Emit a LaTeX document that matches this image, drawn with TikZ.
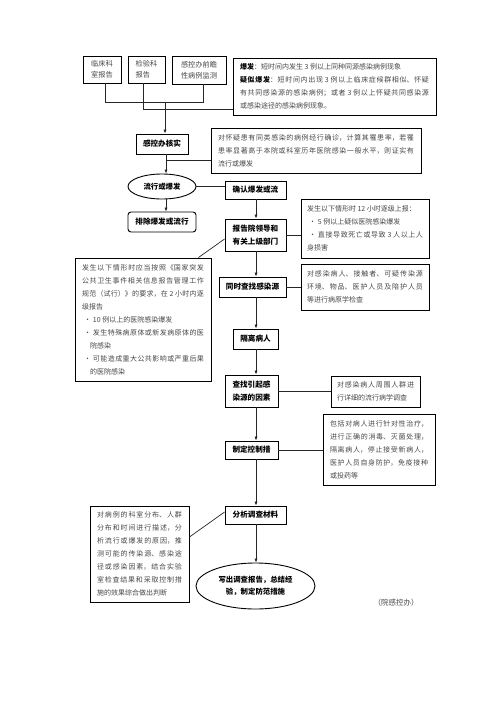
\documentclass[tikz,border=0pt]{standalone}
\usepackage{fontspec}
\setmainfont{Noto Sans CJK SC}
\usetikzlibrary{shapes.geometric,arrows.meta}
\XeTeXlinebreaklocale "zh"
\XeTeXlinebreakskip=0pt plus 2pt
\tikzset{
  box/.style={draw=black, line width=0.9pt, inner sep=0pt, align=center},
  lbl/.style={box, font=\fontsize{7.6}{12.5}\selectfont\bfseries},
  src/.style={box, align=left, font=\fontsize{7.2}{10.5}\selectfont, text=black!72},
  note/.style={draw=black, line width=0.9pt, inner sep=0pt, align=justify,
    font=\fontsize{7}{13}\selectfont, text=black!72},
  oval/.style={ellipse, draw=black, line width=0.9pt, inner sep=0pt, align=center,
    font=\fontsize{7.4}{12.5}\selectfont\bfseries},
  conn/.style={line width=0.7pt, draw=black!85},
  arr/.style={conn, -{Latex[length=4pt,width=3.2pt]}},
}
\begin{document}
\begin{tikzpicture}[x=1pt,y=-1pt]
\useasboundingbox (0,0) rectangle (496,702);
% top sources
\node[src, minimum width=38pt, minimum height=27pt] (s1) at (102,69.5) {临床科\\室报告};
\node[src, minimum width=37pt, minimum height=27pt] (s2) at (146.5,69.5) {检验科\\报告};
\node[src, minimum width=54pt, minimum height=28pt] (s3) at (199,70) {感控办前瞻\\性病例监测};
\node[note, minimum width=203pt, minimum height=57pt, text width=189pt] (d) at (334.5,86.5)
 {{\color{black}\bfseries 爆发}：短时间内发生 3 例以上同种同源感染病例现象\\
  {\color{black}\bfseries 疑似爆发}：短时间内出现 3 例以上临床症候群相似、怀疑\linebreak
  有共同感染源的感染病例；或者 3 例以上怀疑共同感染源\linebreak
  或感染途径的感染病例现象。};
% verify
\node[lbl, minimum width=52pt, minimum height=20pt] (v) at (162,144) {感控办核实};
\node[note, minimum width=210pt, minimum height=45pt, text width=196pt] (c) at (316,150.5)
 {对怀疑患有同类感染的病例经行确诊，计算其罹患率，若罹\linebreak
  患率显著高于本院或科室历年医院感染一般水平，则证实有\linebreak
  流行或爆发};
\node[oval, minimum width=68pt, minimum height=25pt] (e1) at (162,186.5) {流行或爆发};
\node[lbl, rounded corners=3pt, minimum width=68pt, minimum height=20pt] (x) at (162,222) {排除爆发或流行};
% main chain
\node[lbl, minimum width=61pt, minimum height=18pt] (k) at (255.5,190) {确认爆发或流};
\node[lbl, minimum width=61pt, minimum height=32pt] (r) at (255.5,235) {报告院领导和\\有关上级部门};
\node[note, minimum width=128pt, minimum height=59pt, text width=116pt] (n1) at (365,228.5)
 {发生以下情形时 12 小时逐级上报：\\
  \hspace*{2pt}•\hspace{2pt}5 例以上疑似医院感染爆发\\
  \hspace*{2pt}•\hspace{2pt}直接导致死亡或导致 3 人以上人\linebreak
  身损害};
\node[note, minimum width=136pt, minimum height=123pt, text width=122pt] (n2) at (143,319.5)
 {发生以下情形时应当按照《国家突发\linebreak
  公共卫生事件相关信息报告管理工作\linebreak
  规范（试行）》的要求，在 2 小时内逐\linebreak
  级报告\\
  \hspace*{2pt}•\hspace{2pt}10 例以上的医院感染爆发\\
  \hspace*{2pt}•\hspace{2pt}发生特殊病原体或新发病原体的医\linebreak
  \hspace*{8pt}院感染\\
  \hspace*{2pt}•\hspace{2pt}可能造成重大公共影响或严重后果\linebreak
  \hspace*{8pt}的医院感染};
\node[lbl, minimum width=67pt, minimum height=20pt] (q) at (252.5,287) {同时查找感染源};
\node[note, minimum width=128pt, minimum height=46pt, text width=116pt] (n3) at (365,287)
 {对感染病人、接触者、可疑传染源\linebreak
  环境、物品、医护人员及陪护人员\linebreak
  等进行病原学检查};
\node[lbl, minimum width=45pt, minimum height=20pt] (g) at (255.5,339) {隔离病人};
\node[lbl, minimum width=53pt, minimum height=32pt] (f) at (251.5,391) {查找引起感\\染源的因素};
\node[note, minimum width=89pt, minimum height=31pt, text width=77pt] (n4) at (375.5,391.5)
 {对感染病人周围人群进\linebreak 行详细的流行病学调查};
\node[lbl, minimum width=53pt, minimum height=18pt] (m) at (251.5,450) {制定控制措};
\node[note, minimum width=112pt, minimum height=71pt, text width=98pt] (n5) at (379,449.5)
 {包括对病人进行针对性治疗，\linebreak
  进行正确的消毒、灭菌处理，\linebreak
  隔离病人，停止接受新病人，\linebreak
  医护人员自身防护，免疫接种\linebreak
  或投药等};
\node[lbl, minimum width=61pt, minimum height=18pt] (a) at (255.5,515) {分析调查材料};
\node[note, minimum width=99pt, minimum height=96pt, text width=85pt] (n6) at (139.5,554)
 {对病例的科室分布、人群\linebreak
  分布和时间进行描述，分\linebreak
  析流行或爆发的原因，推\linebreak
  测可能的传染源、感染途\linebreak
  径或感染因素，结合实验\linebreak
  室检查结果和采取控制措\linebreak
  施的效果综合做出判断};
\node[oval, minimum width=119pt, minimum height=46pt] (e2) at (255.5,586) {写出调查报告，总结经\\验，制定防范措施};
\node[font=\fontsize{7.5}{9}\selectfont, text=black!72, inner sep=0pt] (ft) at (396,603) {（院感控办）};
% connectors
\coordinate (j1) at (105,102);
\coordinate (j3) at (203,102);
\coordinate (j2) at (143,109);
\coordinate (jm) at (165,102);
\coordinate (b1) at (166,160);
\coordinate (sp) at (256,0);
\draw[conn] (s1.south -| j1) |- (j3) -- (s3.south -| j3);
\draw[conn] (s2.south -| j2) |- (d.west |- j2);
\draw[arr] (jm) -- (v.north -| jm);
\draw[arr] (v.south -| b1) -- (e1.north -| b1);
\draw[conn] (b1) -- (c.west |- b1);
\draw[arr] (e1.south -| b1) -- (x.north -| b1);
\draw[conn] (e1.east) -- (k.west |- e1.east);
\draw[arr] (k.south -| sp) -- (r.north -| sp);
\draw[conn] (r.east) -- (n1.west |- r.east);
\draw[conn] ([yshift=-4pt]r.west) -- ([xshift=-13pt]n2.north east);
\draw[arr] (r.south -| sp) -- (q.north -| sp);
\draw[conn] (q.east) -- (n3.west |- q.east);
\draw[arr] (q.south -| sp) -- (g.north -| sp);
\draw[arr] (g.south -| sp) -- (f.north -| sp);
\draw[conn] (f.east) -- (n4.west |- f.east);
\draw[arr] (f.south -| sp) -- (m.north -| sp);
\draw[conn] (m.east) -- (n5.west |- m.east);
\draw[arr] (m.south -| sp) -- (a.north -| sp);
\draw[conn] ([yshift=3pt]a.west) -- ([yshift=17pt]n6.east);
\draw[arr] (a.south -| sp) -- (e2.north -| sp);
\end{tikzpicture}
\end{document}
